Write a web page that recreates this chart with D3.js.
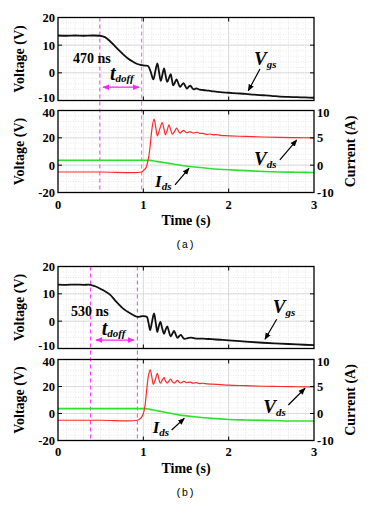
<!DOCTYPE html>
<html><head><meta charset="utf-8">
<script src="https://cdn.jsdelivr.net/npm/d3@7"></script>
<style>body{margin:0;background:#fff}svg{display:block}</style>
</head><body>
<script>
// ---- data ----
const xTicks = [0, 1, 2, 3];
const vTopTicks = [20, 10, 0, -10];
const vBotTicks = [40, 20, 0, -20];
const iTickValues = [10, 5, 0, -5];
const iTickLabels = ["10", "5", "0", "-10"];

// panel (a)
const tVgsA = [0,0.1,0.2,0.3,0.4,0.49,0.55,0.61,0.67,0.72,0.77,0.82,0.88,0.93,0.98,1.02,1.055,1.085,1.117,1.14,1.164,1.184,1.204,1.224,1.243,1.26,1.28,1.30,1.32,1.335,1.35,1.37,1.39,1.41,1.43,1.45,1.47,1.49,1.51,1.53,1.55,1.57,1.59,1.62,1.66,1.7,1.75,1.8,1.9,2.0,2.1,2.2,2.3,2.4,2.5,2.6,2.7,2.8,2.9,3.0];
const vgsA = [13.5,13.4,13.5,13.4,13.5,13.4,12.9,11.4,9.6,8.0,6.5,5.2,4.0,3.2,2.8,2.6,2.5,0.5,-2.4,0.5,3.4,0.3,-2.9,-0.6,1.6,-0.8,-3.3,-1.9,-0.5,-2.5,-4.5,-3.5,-2.4,-3.8,-5.1,-4.4,-3.7,-4.7,-5.7,-5.1,-4.6,-5.4,-6.0,-5.6,-6.1,-6.2,-6.4,-6.6,-7.0,-7.2,-7.4,-7.6,-7.9,-8.1,-8.3,-8.6,-8.7,-8.8,-8.9,-9.0];
const tVdsA = [0,0.5,0.98,1.0,1.03,1.06,1.08,1.1,1.125,1.145,1.164,1.19,1.22,1.24,1.26,1.28,1.30,1.32,1.34,1.365,1.39,1.41,1.43,1.45,1.47,1.49,1.51,1.53,1.55,1.57,1.59,1.61,1.63,1.66,1.7,1.74,1.78,1.82,1.86,1.9,2.0,2.2,2.4,2.6,2.8,3.0];
const vdsA = [-5,-5,-5,-4,-2,5,14,26,33.7,28,21.5,26,31.2,27,22.2,25.5,29.5,26,22.7,24.5,27.1,25.2,23.5,24.5,25.4,24.5,23.8,24.2,24.4,23.9,23.5,23.9,24,23.3,23.2,22.5,22.8,22.2,22.4,21.8,21.5,21,20.6,20.3,20.1,20];
const tIdsA = [0,0.5,1.0,1.08,1.15,1.25,1.35,1.45,1.6,1.8,2.0,2.2,2.4,2.6,2.8,3.0];
const idsA = [0.9,0.9,0.9,0.88,0.7,0.45,0.2,-0.05,-0.35,-0.65,-0.85,-1.0,-1.15,-1.25,-1.3,-1.35];
const markersA = [0.49, 0.98];

// panel (b)
const tVgsB = [0,0.1,0.2,0.3,0.38,0.45,0.53,0.61,0.68,0.76,0.84,0.93,0.98,1.04,1.06,1.08,1.10,1.125,1.145,1.164,1.18,1.20,1.22,1.243,1.26,1.28,1.30,1.32,1.34,1.36,1.38,1.40,1.42,1.44,1.46,1.48,1.52,1.56,1.6,1.7,1.8,1.9,2.0,2.2,2.4,2.6,2.8,3.0];
const vgsB = [13.4,13.3,13.4,13.3,13.3,12.6,11.3,9.7,7.2,4.7,3.0,1.6,1.8,1.6,-0.5,-3.3,-0.5,2.8,-0.5,-4,-2,-0.3,-2.5,-4.6,-3.2,-1.9,-3.8,-5.6,-4.6,-3.6,-4.9,-6.1,-5.5,-5,-5.8,-6.5,-6.2,-6.0,-6.3,-6.4,-6.6,-6.8,-7.0,-7.5,-7.9,-8.2,-8.5,-8.8];
const tVdsB = [0,0.5,0.93,0.97,1.0,1.02,1.04,1.06,1.08,1.10,1.117,1.14,1.164,1.18,1.20,1.22,1.243,1.26,1.28,1.30,1.32,1.34,1.36,1.38,1.40,1.42,1.44,1.46,1.48,1.50,1.52,1.55,1.58,1.62,1.66,1.7,1.75,1.8,1.9,2.0,2.2,2.4,2.6,2.8,3.0];
const vdsB = [-5,-5,-5,-3.5,0,6,18,28,32.3,27,21.6,25,29.8,26,22.4,24.5,26.6,24,22.5,24,25.5,23.5,22.5,23.5,24.5,23.2,22.6,23.4,23.8,22.8,23,23.2,22.5,22.8,22.2,22.4,21.9,21.7,21.4,21,20.6,20.2,20,19.8,19.7];
const tIdsB = [0,0.5,1.0,1.04,1.1,1.2,1.3,1.43,1.6,1.8,2.0,2.2,2.5,2.8,3.0];
const idsB = [0.9,0.9,0.9,0.88,0.7,0.4,0.1,-0.3,-0.6,-0.9,-1.1,-1.2,-1.3,-1.4,-1.4];
const markersB = [0.38, 0.93];

// ---- layout ----
const W = 374, H = 508;
const svg = d3.select("body").append("svg").attr("width", W).attr("height", H);
const defs = svg.append("defs");
function mk(id, color, orient){
  defs.append("marker").attr("id", id).attr("viewBox","0 0 10 10").attr("refX",9).attr("refY",5)
    .attr("markerWidth",7).attr("markerHeight",7).attr("markerUnits","userSpaceOnUse").attr("orient",orient)
    .append("path").attr("d","M0,1 L10,5 L0,9 z").attr("fill",color);
}
mk("ah","#000","auto"); mk("mh","#ff22ff","auto"); mk("mhs","#ff22ff","auto-start-reverse");

const x = d3.scaleLinear().domain([0,3]).range([58,314]);
const serif = "'Liberation Serif','Times New Roman',serif";

const panels = [
  {label:"(a)", top:[17.5,100.5], bot:[110.5,192.5], xLab:208.5, timeY:225, capY:248,
   tv:tVgsA, vgs:vgsA, td:tVdsA, vds:vdsA, ti:tIdsA, ids:idsA, mk:markersA, mcol:["#ff33ff","#ee66dd"],
   ns:{text:"470 ns", t:0.176, v:3.5}, tdoff:{t:0.61, v:-2.6}, dbl:{t0:0.527, t1:0.949, v:-5.2},
   vgsL:{t:2.297, v:2.8, a:[2.367,1.37,2.23,-6.47]},
   vdsL:{t:2.297, v:0.15, a:[2.6,3.8,2.797,18.4]},
   idsL:{t:1.137, v:-16.2, a:[1.371,-14.5,1.535,-2.3]}},
  {label:"(b)", top:[266.5,348.5], bot:[359.5,440.5], xLab:456, timeY:473, capY:496,
   tv:tVgsB, vgs:vgsB, td:tVdsB, vds:vdsB, ti:tIdsB, ids:idsB, mk:markersB, mcol:["#ff33ff","#cc55cc"],
   ns:{text:"530 ns", t:0.152, v:2.0}, tdoff:{t:0.512, v:-5.05}, dbl:{t0:0.445, t1:0.891, v:-6.9},
   vgsL:{t:2.516, v:3.1, a:[2.563,0.7,2.426,-6.6]},
   vdsL:{t:2.406, v:0.15, a:[2.699,6.3,2.895,18.7]},
   idsL:{t:1.11, v:-14.7, a:[1.332,-12.2,1.48,-3.6]}}
];

function grid(g, y, yMinorStep, yDom, yMajor){
  const [x0,x1] = x.range();
  d3.range(0.1, 3, 0.1).forEach(t=>{
    g.append("line").attr("x1",x(t)).attr("x2",x(t)).attr("y1",y.range()[0]).attr("y2",y.range()[1])
      .attr("stroke","#dcdcdc").attr("stroke-width",0.7).attr("stroke-dasharray","1,1.5");
  });
  d3.range(yDom[0]+yMinorStep, yDom[1], yMinorStep).forEach(v=>{
    g.append("line").attr("x1",x0).attr("x2",x1).attr("y1",y(v)).attr("y2",y(v))
      .attr("stroke","#dcdcdc").attr("stroke-width",0.7).attr("stroke-dasharray","1,1.5");
  });
  [1,2].forEach(t=>g.append("line").attr("x1",x(t)).attr("x2",x(t)).attr("y1",y.range()[0]).attr("y2",y.range()[1]).attr("stroke","#d4d4d4").attr("stroke-width",0.8));
  yMajor.forEach(v=>g.append("line").attr("x1",x0).attr("x2",x1).attr("y1",y(v)).attr("y2",y(v)).attr("stroke","#d4d4d4").attr("stroke-width",0.8));
}

function frame(g, y, leftTicks){
  const [x0,x1] = x.range(); const [yb,yt] = y.range();
  g.append("rect").attr("x",x0).attr("y",yt).attr("width",x1-x0).attr("height",yb-yt)
    .attr("fill","none").attr("stroke","#000").attr("stroke-width",1.3);
  leftTicks.forEach(v=>{
    g.append("line").attr("x1",x0).attr("x2",x0+4).attr("y1",y(v)).attr("y2",y(v)).attr("stroke","#000");
    g.append("line").attr("x1",x1).attr("x2",x1-4).attr("y1",y(v)).attr("y2",y(v)).attr("stroke","#000");
  });
  [1,2].forEach(t=>{
    g.append("line").attr("x1",x(t)).attr("x2",x(t)).attr("y1",yb).attr("y2",yb-4).attr("stroke","#000");
    g.append("line").attr("x1",x(t)).attr("x2",x(t)).attr("y1",yt).attr("y2",yt+4).attr("stroke","#000");
  });
}

panels.forEach(p=>{
  const g = svg.append("g");
  const yT = d3.scaleLinear().domain([-10,20]).range([p.top[1], p.top[0]]);
  const yB = d3.scaleLinear().domain([-20,40]).range([p.bot[1], p.bot[0]]);
  const yI = d3.scaleLinear().domain([-5,10]).range([p.bot[1], p.bot[0]]);

  grid(g, yT, 2, [-10,20], [10,0]);
  grid(g, yB, 4, [-20,40], [20,0]);

  p.mk.forEach((t,i)=>g.append("line").attr("x1",x(t)).attr("x2",x(t)).attr("y1",p.top[0]).attr("y2",p.bot[1])
    .attr("stroke",p.mcol[i]).attr("stroke-width",1).attr("stroke-dasharray","4,3"));

  const line = (ys)=>d3.line().x(d=>x(d[0])).y(d=>ys(d[1]));
  g.append("path").datum(d3.zip(p.tv,p.vgs)).attr("d",line(yT).curve(d3.curveCatmullRom)).attr("fill","none").attr("stroke","#111").attr("stroke-width",1.8).attr("stroke-linejoin","round");
  g.append("path").datum(d3.zip(p.ti,p.ids)).attr("d",line(yI).curve(d3.curveMonotoneX)).attr("fill","none").attr("stroke","#2ee02e").attr("stroke-width",1.6);
  g.append("path").datum(d3.zip(p.td,p.vds)).attr("d",line(yB).curve(d3.curveCatmullRom)).attr("fill","none").attr("stroke","#ff2a2a").attr("stroke-width",1.2);

  frame(g, yT, vTopTicks);
  frame(g, yB, vBotTicks);

  const tick = {"font-family":serif,"font-weight":"bold","font-size":"12.5px","fill":"#000"};
  const applyStyle=(s,st)=>{Object.entries(st).forEach(([k,v])=>s.attr(k,v));return s;};
  vTopTicks.forEach(v=>applyStyle(g.append("text"),tick).attr("x",55).attr("y",yT(v)).attr("dy",v===-10?"0.15em":"0.35em").attr("text-anchor","end").text(v));
  vBotTicks.forEach(v=>applyStyle(g.append("text"),tick).attr("x",55).attr("y",yB(v)).attr("dy",v===40?"0.55em":"0.35em").attr("text-anchor","end").text(v));
  iTickValues.forEach((v,i)=>applyStyle(g.append("text"),tick).attr("x",317).attr("y",yI(v)).attr("dy",i===0?"0.5em":"0.35em").attr("text-anchor","start").text(iTickLabels[i]));
  xTicks.forEach(t=>applyStyle(g.append("text"),tick).attr("x",x(t)).attr("y",p.xLab).attr("text-anchor","middle").text(t));

  const lab = {"font-family":serif,"font-weight":"bold","font-size":"14px","fill":"#000"};
  applyStyle(g.append("text"),lab).attr("transform",`translate(24,${(p.top[0]+p.top[1])/2}) rotate(-90)`).attr("text-anchor","middle").text("Voltage (V)");
  applyStyle(g.append("text"),lab).attr("transform",`translate(24,${(p.bot[0]+p.bot[1])/2}) rotate(-90)`).attr("text-anchor","middle").text("Voltage (V)");
  applyStyle(g.append("text"),lab).attr("transform",`translate(355,${(p.bot[0]+p.bot[1])/2}) rotate(-90)`).attr("text-anchor","middle").text("Current (A)");
  applyStyle(g.append("text"),lab).attr("x",(x(0)+x(3))/2).attr("y",p.timeY).attr("text-anchor","middle").text("Time (s)");
  g.append("text").attr("x",185).attr("y",p.capY).attr("text-anchor","middle").attr("font-family","'Liberation Mono','DejaVu Sans Mono',monospace").attr("font-size","10.5px").text(p.label);

  applyStyle(g.append("text"),lab).attr("x",x(p.ns.t)).attr("y",yT(p.ns.v)).attr("font-size","14px").text(p.ns.text);
  const td = applyStyle(g.append("text"),lab).attr("x",x(p.tdoff.t)).attr("y",yT(p.tdoff.v)).attr("font-style","italic");
  td.append("tspan").attr("font-size","20px").text("t");
  td.append("tspan").attr("font-size","11px").attr("dy","2").text("doff");
  g.append("line").attr("x1",x(p.dbl.t0)).attr("x2",x(p.dbl.t1)).attr("y1",yT(p.dbl.v)).attr("y2",yT(p.dbl.v))
    .attr("stroke","#ff22ff").attr("stroke-width",1.3).attr("marker-end","url(#mh)").attr("marker-start","url(#mhs)");

  function sub(big, small, t, v, ys){
    const tx = applyStyle(g.append("text"),lab).attr("x",x(t)).attr("y",ys(v)).attr("font-style","italic");
    tx.append("tspan").attr("font-size", big==="I"?"17px":"19px").text(big);
    tx.append("tspan").attr("font-size","11px").attr("dy","3").text(small);
  }
  function arrow(a, ys){
    g.append("line").attr("x1",x(a[0])).attr("y1",ys(a[1])).attr("x2",x(a[2])).attr("y2",ys(a[3]))
      .attr("stroke","#000").attr("stroke-width",1.2).attr("marker-end","url(#ah)");
  }
  sub("V","gs",p.vgsL.t,p.vgsL.v,yT); arrow(p.vgsL.a,yT);
  sub("V","ds",p.vdsL.t,p.vdsL.v,yB); arrow(p.vdsL.a,yB);
  sub("I","ds",p.idsL.t,p.idsL.v,yB); arrow(p.idsL.a,yB);
});
</script>
</body></html>
